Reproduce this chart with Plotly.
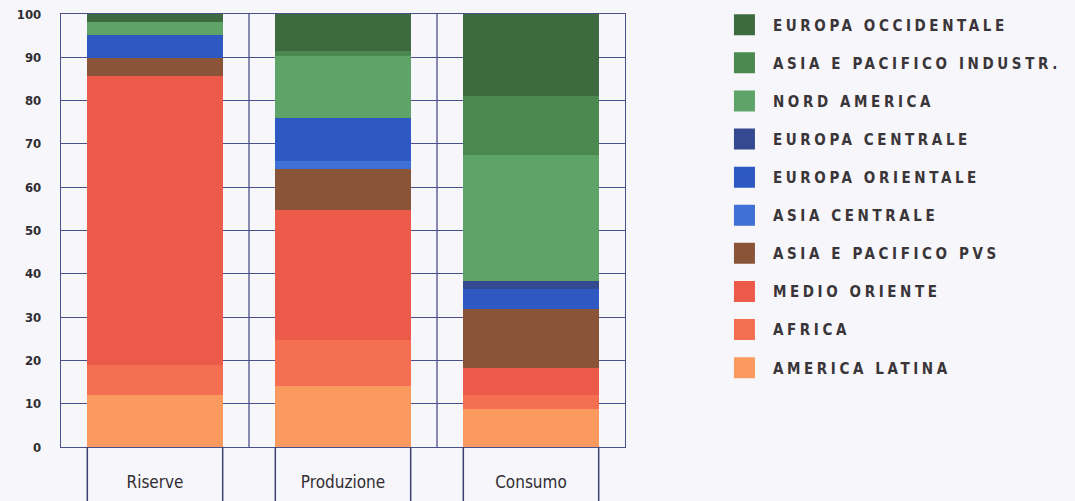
import plotly.graph_objects as go

# Categories along the x axis
categories = ["Riserve", "Produzione", "Consumo"]

# Regions, listed from the bottom of each stack to the top
regions = [
    "AMERICA LATINA",
    "AFRICA",
    "MEDIO ORIENTE",
    "ASIA E PACIFICO PVS",
    "ASIA CENTRALE",
    "EUROPA ORIENTALE",
    "EUROPA CENTRALE",
    "NORD AMERICA",
    "ASIA E PACIFICO INDUSTR.",
    "EUROPA OCCIDENTALE",
]

# Percentage shares per region: [Riserve, Produzione, Consumo]
america_latina = [12.1, 14.2, 8.8]
africa = [6.9, 10.6, 3.3]
medio_oriente = [66.6, 30.0, 6.1]
asia_pacifico_pvs = [4.2, 9.5, 13.7]
asia_centrale = [0.0, 1.7, 0.0]
europa_orientale = [5.4, 10.0, 4.5]
europa_centrale = [0.0, 0.0, 1.9]
nord_america = [2.9, 14.2, 29.2]
asia_pacifico_industr = [0.0, 1.2, 13.5]
europa_occidentale = [1.9, 8.6, 19.0]

shares = [
    america_latina, africa, medio_oriente, asia_pacifico_pvs, asia_centrale,
    europa_orientale, europa_centrale, nord_america, asia_pacifico_industr,
    europa_occidentale,
]

colors = [
    "#fb9a5f",  # America Latina
    "#f46f52",  # Africa
    "#ec5b4a",  # Medio Oriente
    "#8a5439",  # Asia e Pacifico PVS
    "#3e70d6",  # Asia Centrale
    "#2e59c2",  # Europa Orientale
    "#34498f",  # Europa Centrale
    "#5ea368",  # Nord America
    "#4c8950",  # Asia e Pacifico Industr.
    "#3e6a40",  # Europa Occidentale
]

y_ticks = list(range(0, 101, 10))

BG = "#f7f6fa"
GRID = "#4a508a"
NARROW = "Liberation Sans Narrow, Arial Narrow, DejaVu Sans Condensed, sans-serif"

fig = go.Figure()

n = len(regions)
for k, (name, vals, col) in enumerate(zip(regions, shares, colors)):
    fig.add_trace(go.Bar(
        x=categories, y=vals, name=name, marker_color=col,
        marker_line_width=0, width=0.72, legendgroup=name, showlegend=False,
        hovertemplate="%{x}: %{y}%<extra>" + name + "</extra>",
    ))
    # legend swatch (larger square than the default bar symbol);
    # top of the stack is listed first
    fig.add_trace(go.Scatter(
        x=[None], y=[None], mode="markers", name=name, legendgroup=name,
        legendrank=n - k,
        marker=dict(symbol="square", size=16, color=col,
                    line=dict(color=col, width=5)),
        hoverinfo="skip",
    ))

# vertical separators between the category columns
for i in range(len(categories) - 1):
    fig.add_shape(type="line", xref="x", yref="y", x0=i + 0.5, x1=i + 0.5,
                  y0=0, y1=100, line=dict(color=GRID, width=1.3), layer="below")

# boxes under each column holding the category name
for i in range(len(categories)):
    for dx in (-0.36, 0.36):
        fig.add_shape(type="line", xref="x", yref="paper", x0=i + dx, x1=i + dx,
                      y0=0, y1=-0.2, line=dict(color="#3d4170", width=1.5))

fig.update_layout(
    width=1075, height=501,
    barmode="stack",
    paper_bgcolor=BG, plot_bgcolor=BG,
    margin=dict(l=61, r=450, t=14, b=54, autoexpand=False),
    bargap=0.28,
    legend=dict(
        traceorder="grouped", tracegroupgap=15.6,
        xref="container", yref="container",
        x=0.666, xanchor="left", y=0.983, yanchor="top",
        font=dict(family=NARROW, size=15, color="#3a3538", weight="bold"),
        bgcolor="rgba(0,0,0,0)", itemwidth=47, maxheight=495,
    ),
    showlegend=True,
)

fig.update_xaxes(
    type="category", range=[-0.5, 2.5],
    showline=True, linecolor=GRID, linewidth=1.3, mirror=True,
    showgrid=False, ticks="", ticklabelstandoff=19,
    tickfont=dict(family=NARROW, size=17, color="#2f2d33"),
)
fig.update_yaxes(
    range=[0, 100], tickvals=y_ticks, ticktext=[str(v) for v in y_ticks],
    showline=True, linecolor=GRID, linewidth=1.3, mirror=True,
    showgrid=True, gridcolor=GRID, gridwidth=1.3, zeroline=False,
    ticks="", ticklabelstandoff=16,
    tickfont=dict(family=NARROW, size=13, color="#2f2d33", weight="bold"),
)

# widen the tracking of the legend captions and let them run past the
# width plotly measured without that tracking
css = ("var s=document.createElement('style');"
       "s.textContent='.legendtext{letter-spacing:3.6px}"
       ".legend .scrollbox{clip-path:none !important}';"
       "document.head.appendChild(s);")

fig.write_html("out.html", post_script=css)
